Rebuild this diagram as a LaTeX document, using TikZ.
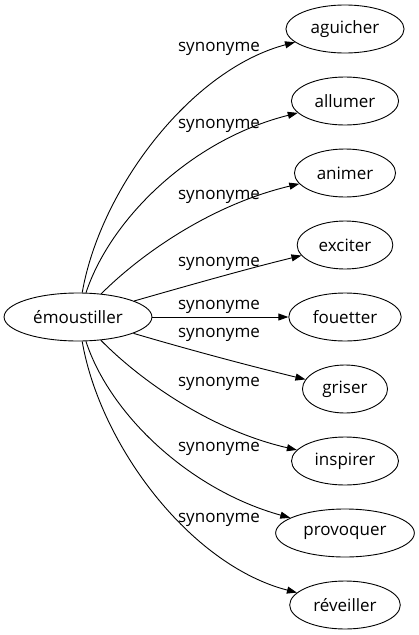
\documentclass[tikz,border=0pt]{standalone}
\usepackage{fontspec}
\setmainfont{Open Sans}
\usetikzlibrary{arrows.meta,shapes.geometric}

\begin{document}
\begin{tikzpicture}[x=1pt,y=-1pt,
	mot/.style={draw,ellipse,line width=0.9pt,inner xsep=7.5pt,minimum height=48pt,font=\fontsize{17}{20}\selectfont},
	lien/.style={line width=0.9pt,-{Triangle[length=10pt,width=7pt]}},
	etiq/.style={font=\fontsize{17}{20}\selectfont,inner sep=0pt}]

	\useasboundingbox (0,0) rectangle (418,635);

	\node[mot] (emou) at (78,317) {émoustiller};
	\foreach \n/\w/\y in {agu/aguicher/29,all/allumer/101,ani/animer/173,exc/exciter/245,
		fou/fouetter/317,gri/griser/389,ins/inspirer/461,pro/provoquer/533,rev/réveiller/605}
		\node[mot] (\n) at (345,\y) {\w};

	% vers le haut
	\draw[lien] (emou) .. controls (100,190) and (190,70) .. (agu);
	\draw[lien] (emou) .. controls (110,220) and (190,140) .. (all);
	\draw[lien] (emou) .. controls (140,255) and (210,205) .. (ani);
	\draw[lien] (emou) .. controls (190,285) and (250,268) .. (exc);
	\draw[lien] (emou) -- (fou);
	% vers le bas
	\draw[lien] (emou) .. controls (190,350) and (250,366) .. (gri);
	\draw[lien] (emou) .. controls (140,380) and (210,430) .. (ins);
	\draw[lien] (emou) .. controls (110,415) and (190,490) .. (pro);
	\draw[lien] (emou) .. controls (100,445) and (190,565) .. (rev);

	\foreach \i/\y in {1/49,2/126,3/197,4/264,5/307,6/335,7/384,8/449,9/520}
		\node[etiq] (s\i) at (219,\y) {synonyme};

\end{tikzpicture}
\end{document}
